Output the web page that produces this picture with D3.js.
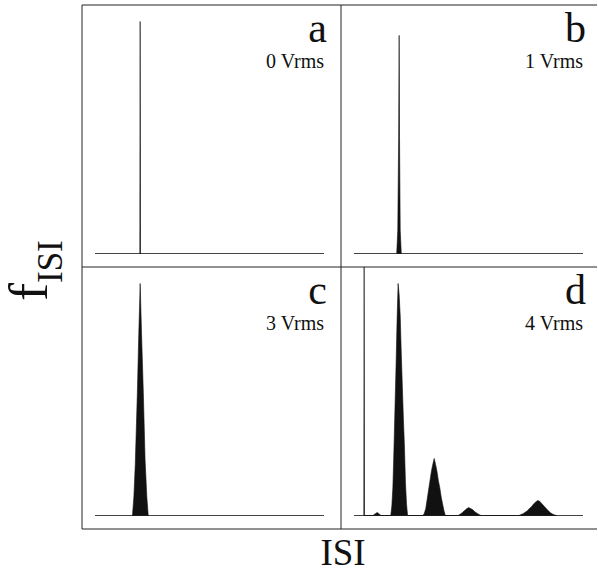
<!DOCTYPE html>
<html lang="en">
	<head>
		<meta charset="utf-8">
		<title>D3: ISI histograms</title>
		<script type="text/javascript" src="https://cdn.jsdelivr.net/npm/d3@7"></script>
		<style type="text/css">

			body {
				margin: 0;
				background: #fff;
			}

			text {
				font-family: "Liberation Serif", "DejaVu Serif", serif;
				fill: #111;
			}

			.frame {
				stroke: #222;
				stroke-width: 1;
			}

			.baseline {
				stroke: #444;
				stroke-width: 1.2;
			}

			.hist {
				fill: #111;
				stroke: #111;
				stroke-width: 0.6;
			}

		</style>
	</head>
	<body>
		<script type="text/javascript">

			//Panel names and noise levels
			var panelLetters = ["a", "b", "c", "d"];
			var noiseLabels = ["0 Vrms", "1 Vrms", "3 Vrms", "4 Vrms"];

			//ISI axis range, in units of the drive period
			var isiDomain = [-0.29, 6.25];

			//Histogram outlines: [ISI, relative frequency]
			var histA = [[0.99, 0], [1.0, 1.0], [1.01, 0]];

			var histB = [[0.93, 0], [0.96, 0.1], [0.985, 0.5], [1.0, 0.94], [1.01, 0.5], [1.03, 0.1], [1.06, 0]];

			var histC = [[0.78, 0], [0.82, 0.08], [0.86, 0.22], [0.92, 0.53], [0.96, 0.78], [1.0, 1.0],
				[1.04, 0.78], [1.09, 0.53], [1.14, 0.24], [1.19, 0.08], [1.23, 0]];

			var histD = [[-0.01, 0], [0.0, 1.071], [0.01, 0],
				[0.25, 0], [0.32, 0.008], [0.37, 0.013], [0.42, 0.008], [0.48, 0],
				[0.76, 0], [0.79, 0.04], [0.82, 0.12], [0.85, 0.28], [0.88, 0.46], [0.91, 0.64],
				[0.94, 0.84], [0.97, 1.0], [1.0, 0.95], [1.03, 0.86], [1.06, 0.70], [1.09, 0.56],
				[1.12, 0.42], [1.15, 0.30], [1.18, 0.14], [1.21, 0.05], [1.24, 0],
				[1.68, 0], [1.72, 0.01], [1.76, 0.03], [1.80, 0.07], [1.84, 0.11], [1.88, 0.15],
				[1.92, 0.19], [1.96, 0.22], [2.0, 0.246], [2.04, 0.22], [2.08, 0.19], [2.12, 0.15],
				[2.16, 0.12], [2.20, 0.08], [2.24, 0.05], [2.28, 0.02], [2.32, 0],
				[2.68, 0], [2.74, 0.005], [2.80, 0.012], [2.86, 0.02], [2.92, 0.028], [2.98, 0.034],
				[3.04, 0.03], [3.10, 0.025], [3.16, 0.016], [3.22, 0.01], [3.28, 0.004], [3.34, 0],
				[4.42, 0], [4.48, 0.004], [4.54, 0.008], [4.60, 0.014], [4.66, 0.02], [4.72, 0.03],
				[4.78, 0.038], [4.84, 0.05], [4.90, 0.058], [4.96, 0.065], [5.02, 0.06], [5.08, 0.05],
				[5.14, 0.04], [5.20, 0.03], [5.26, 0.02], [5.32, 0.012], [5.38, 0.006], [5.44, 0.002], [5.50, 0]];

			var histograms = [histA, histB, histC, histD];

			//Layout
			var w = 598, h = 571;
			var frameLeft = 82, frameTop = 5, frameRight = 597;
			var pw = 259, ph = 262;

			//Create SVG element
			var svg = d3.select("body")
						.append("svg")
						.attr("width", w)
						.attr("height", h);

			var area = d3.area();

			panelLetters.forEach(function(letter, i) {

				var px = frameLeft + (i % 2) * pw;
				var py = frameTop + Math.floor(i / 2) * ph;

				//Create scale functions
				var xScale = d3.scaleLinear()
							   .domain(isiDomain)
							   .range([px + 13, px + 242]);

				var yScale = d3.scaleLinear()
							   .domain([0, 1.071])
							   .range([py + 248.5, py])
							   .clamp(true);

				var g = svg.append("g");

				//Baseline
				g.append("line")
					.attr("class", "baseline")
					.attr("x1", xScale(isiDomain[0]))
					.attr("x2", xScale(isiDomain[1]))
					.attr("y1", yScale(0))
					.attr("y2", yScale(0));

				//Histogram
				area.x(function(d) { return xScale(d[0]); })
					.y0(yScale(0))
					.y1(function(d) { return yScale(d[1]); });

				g.append("path")
					.datum(histograms[i])
					.attr("class", "hist")
					.attr("d", area);

				//Labels
				g.append("text")
					.attr("x", px + 245)
					.attr("y", py + 37)
					.attr("text-anchor", "end")
					.style("font-size", "42px")
					.text(letter);

				g.append("text")
					.attr("x", px + 242)
					.attr("y", py + 63)
					.attr("text-anchor", "end")
					.style("font-size", "20px")
					.text(noiseLabels[i]);
			});

			//Frame lines
			var frame = svg.append("g").attr("class", "frame");
			[frameTop, frameTop + ph, frameTop + 2 * ph].forEach(function(y) {
				frame.append("line").attr("x1", frameLeft).attr("x2", frameRight).attr("y1", y).attr("y2", y);
			});
			[frameLeft, frameLeft + pw].forEach(function(x) {
				frame.append("line").attr("x1", x).attr("x2", x).attr("y1", frameTop).attr("y2", frameTop + 2 * ph);
			});

			//Axis titles
			svg.append("text")
				.attr("x", 343)
				.attr("y", 565)
				.attr("text-anchor", "middle")
				.style("font-size", "37px")
				.text("ISI");

			var ylab = svg.append("text")
				.attr("transform", "translate(47,301) rotate(-90)");
			ylab.append("tspan")
				.style("font-size", "54px")
				.text("f");
			ylab.append("tspan")
				.attr("dy", 15)
				.style("font-size", "35px")
				.text("ISI");

		</script>
	</body>
</html>
